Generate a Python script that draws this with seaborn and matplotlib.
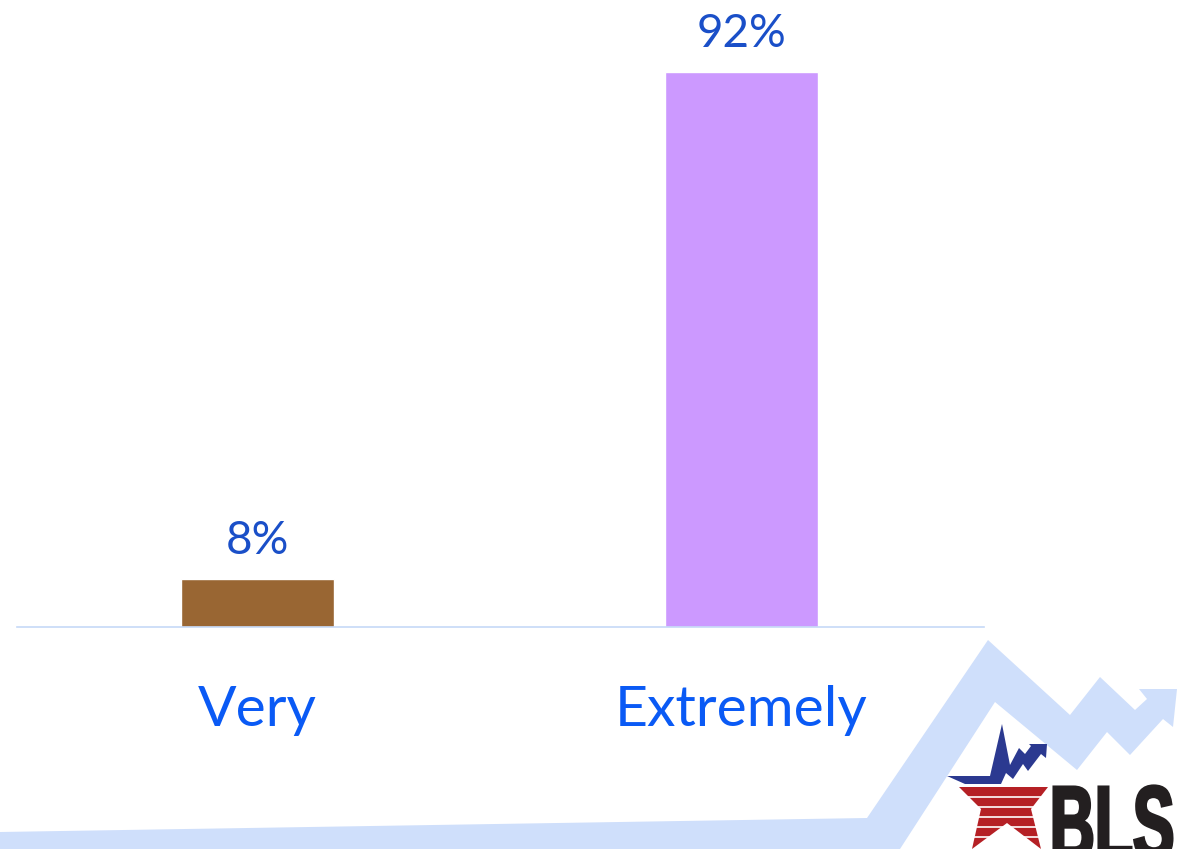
import matplotlib
matplotlib.use("Agg")
import matplotlib.pyplot as plt
import seaborn as sns
from matplotlib.patches import Polygon, PathPatch
from matplotlib.textpath import TextPath
from matplotlib.font_manager import FontProperties
from matplotlib.transforms import Affine2D

# Chart data
categories = ["Very", "Extremely"]
values = [8, 92]
value_labels = ["8%", "92%"]
bar_colors = ["#996633", "#CC99FF"]

W, H = 1188, 849
sns.set_theme(style="white")
plt.rcParams["font.family"] = ["Lato", "DejaVu Sans"]

fig = plt.figure(figsize=(W / 100, H / 100), dpi=100)
fig.patch.set_facecolor("white")

# pixel (y measured from top) -> figure fraction
def frac(pts):
    return [(x / W, 1 - y / H) for x, y in pts]

# Light blue rising-arrow backdrop
arrow_pts = [(0, 832), (867, 818), (988, 640), (1070, 715), (1100, 677),
             (1135, 710), (1147, 699), (1139, 689), (1177, 689), (1173, 727),
             (1163, 719), (1130, 755), (1107, 732), (1077, 770), (995, 702),
             (900, 849), (0, 849)]
fig.add_artist(Polygon(frac(arrow_pts), closed=True, transform=fig.transFigure,
                       facecolor="#CFDFFB", edgecolor="none", zorder=0))

# Logo: star with blue trend line and red stripes
blue_pts = [(947, 776), (990, 776), (1002, 724), (1010, 765), (1019, 748),
            (1025, 754), (1031, 746), (1029, 744), (1047, 744), (1046, 758),
            (1041, 754), (1028, 771), (1023, 764), (1013, 779), (1006, 773),
            (1001, 784), (965, 784)]
fig.add_artist(Polygon(frac(blue_pts), closed=True, transform=fig.transFigure,
                       facecolor="#2B3990", edgecolor="none", zorder=1))
red_pts = [(959, 787), (1048, 787), (1031, 809), (1041, 849), (1007, 823),
           (972, 849), (981, 809)]
fig.add_artist(Polygon(frac(red_pts), closed=True, transform=fig.transFigure,
                       facecolor="#B52025", edgecolor="none", zorder=1))
for yy in [797, 807, 817, 827, 837]:
    fig.add_artist(plt.Line2D([955 / W, 1052 / W], [1 - yy / H, 1 - yy / H],
                              transform=fig.transFigure, color="white",
                              lw=1.2, zorder=2))

# Logo wordmark
bold = FontProperties(family="Liberation Sans", weight="bold")
tp = TextPath((0, 0), "BLS", size=1, prop=bold)
bb = tp.get_extents()
cap = TextPath((0, 0), "B", size=1, prop=bold).get_extents().height
sx = 118 / bb.width
sy = 72 / cap
tr = (Affine2D().translate(-bb.x0, 0).scale(sx, sy).translate(1054, H - 787 - 72)
      + Affine2D().scale(1 / W, 1 / H) + fig.transFigure)
fig.add_artist(PathPatch(tp, transform=tr, facecolor="#231F20",
                         edgecolor="#231F20", lw=2.2, zorder=2))

# Bar chart
ax = fig.add_axes([17 / W, (H - 627) / H, (984 - 17) / W, (627 - 24) / H])
ax.set_facecolor("none")
sns.barplot(x=categories, y=values, hue=categories, palette=bar_colors,
            width=0.316, legend=False, saturation=1, ax=ax)
ax.set_xlim(-0.497, 1.501)
ax.set_ylim(0, 100)

for i, (v, lab) in enumerate(zip(values, value_labels)):
    ax.annotate(lab, (i, v), xytext=(0, 18), textcoords="offset points",
                ha="center", va="baseline", fontsize=33, color="#1A4FC8")

for side in ["top", "left", "right"]:
    ax.spines[side].set_visible(False)
ax.spines["bottom"].set_color("#C6D9F7")
ax.spines["bottom"].set_linewidth(1.2)
ax.set_yticks([])
ax.set_xlabel("")
ax.set_ylabel("")
ax.tick_params(axis="x", length=0, pad=42, labelsize=41, labelcolor="#0A5AF5")

fig.savefig("out.png", dpi=100)
